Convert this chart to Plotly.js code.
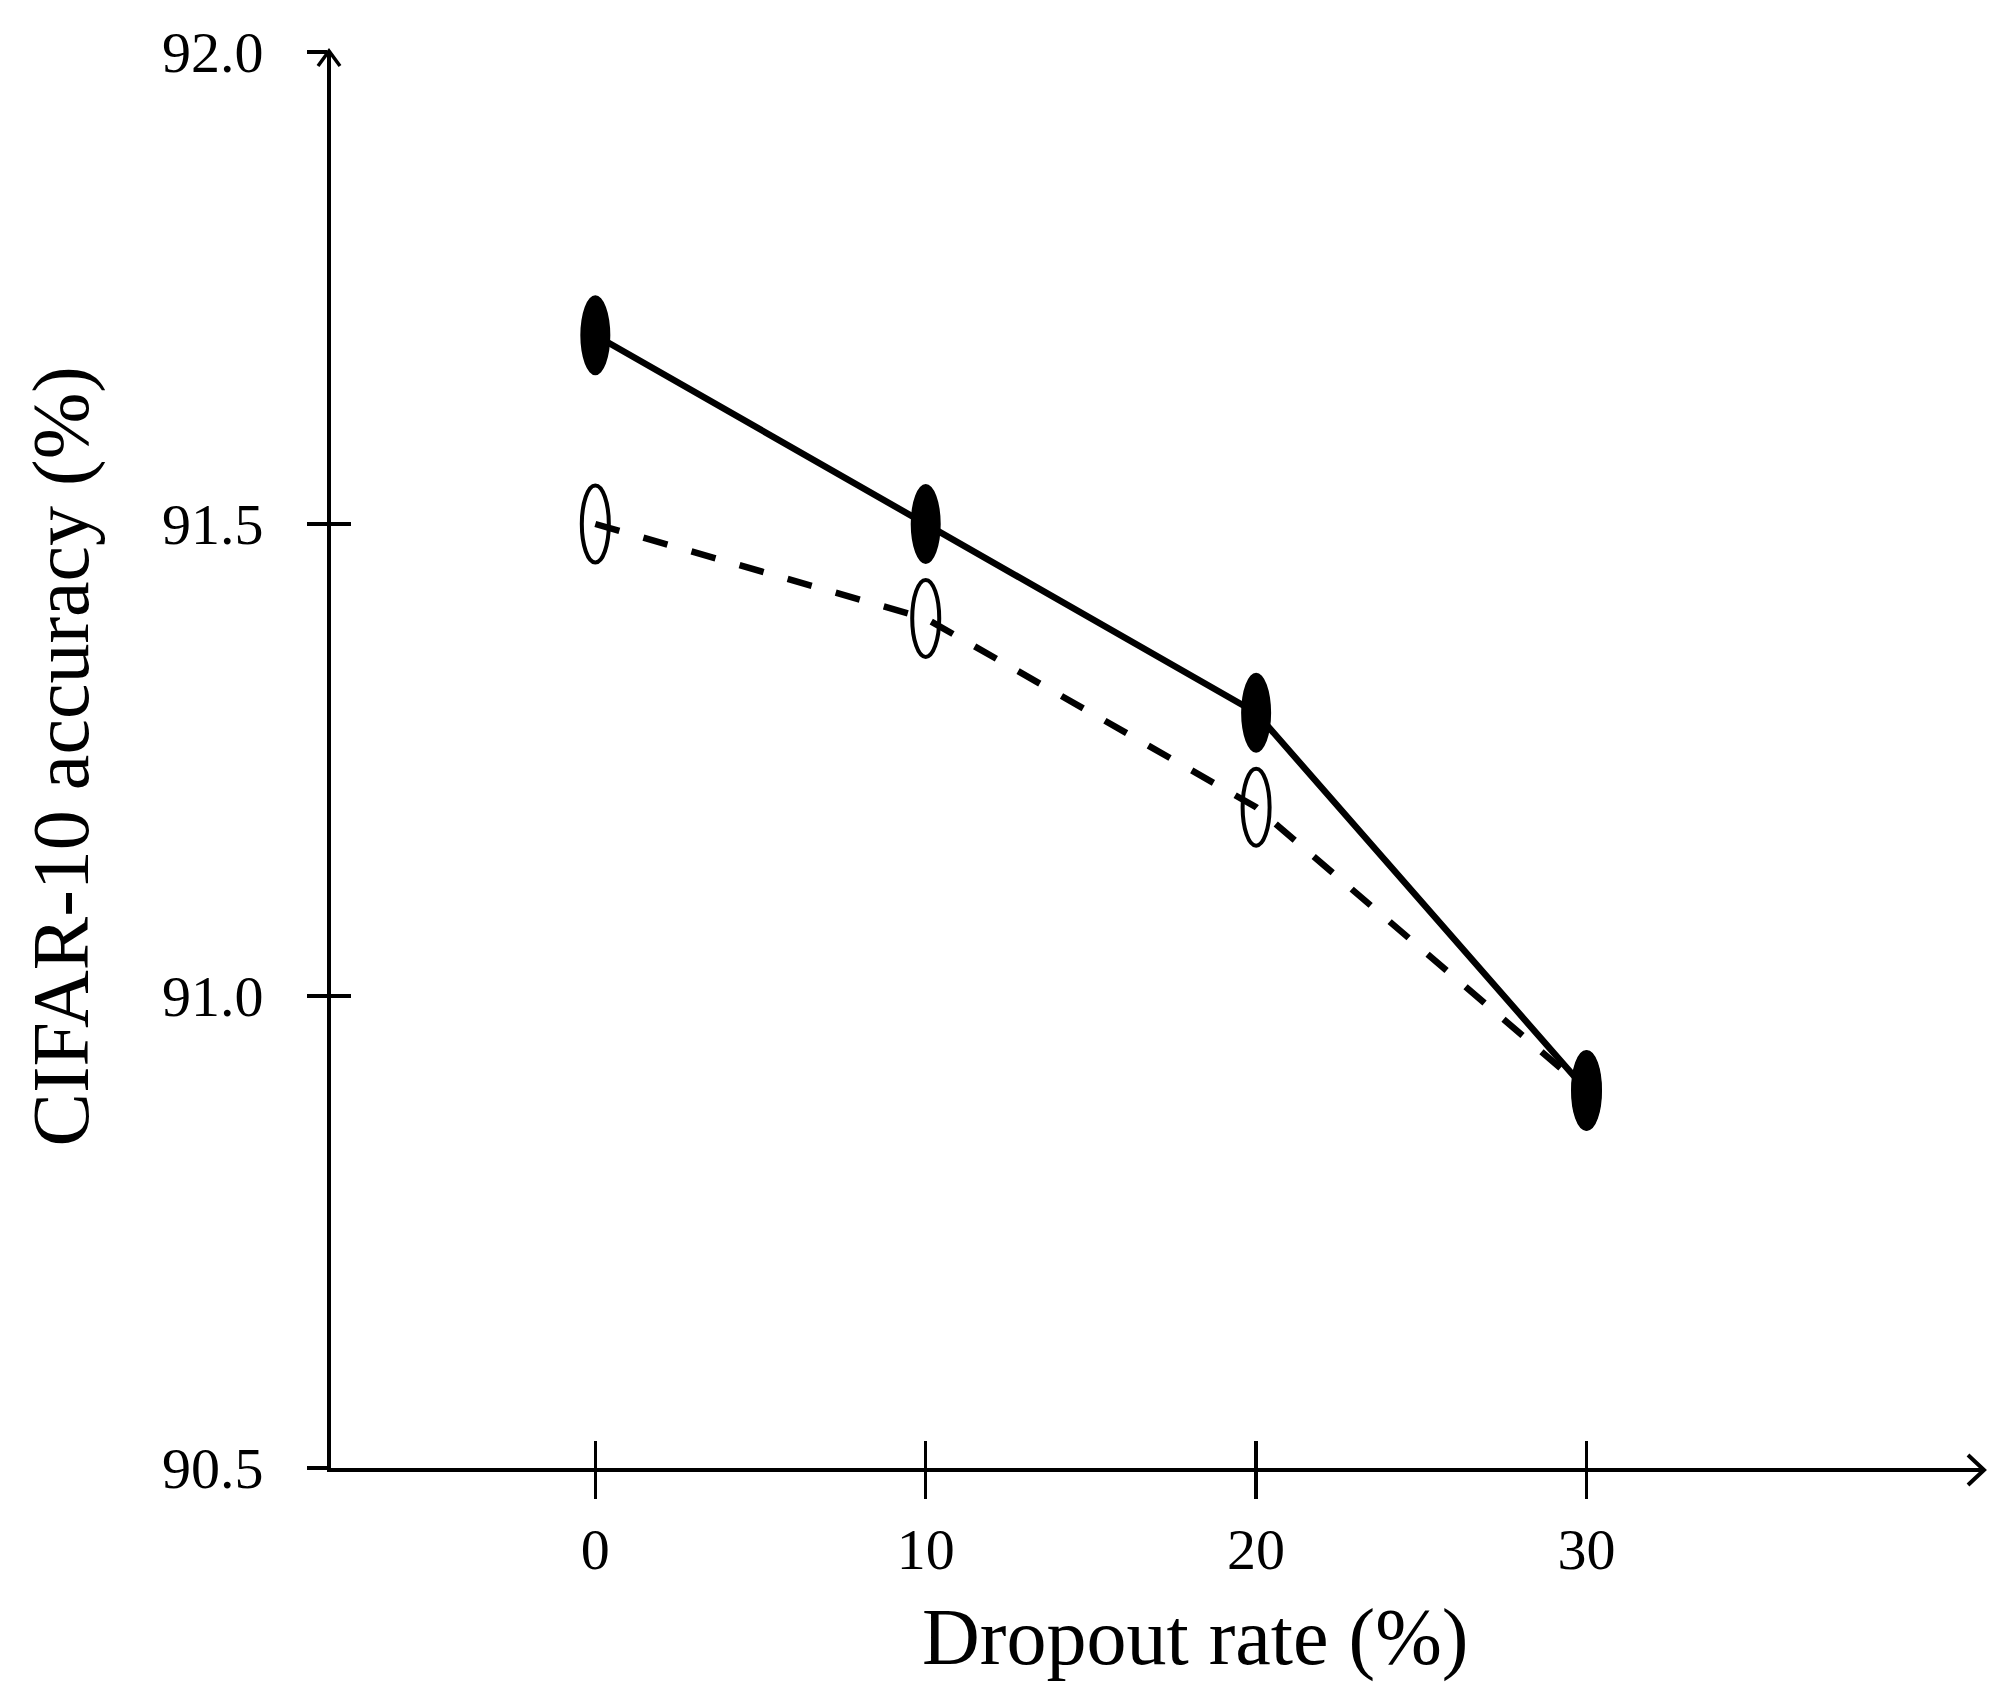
<!DOCTYPE html>
<html>
<head>
<meta charset="utf-8">
<script src="https://cdn.plot.ly/plotly-3.0.1.min.js"></script>
<style>
  html, body { margin: 0; padding: 0; background: #ffffff; }
  #chart { width: 1997px; height: 1701px; }
</style>
</head>
<body>
<div id="chart"></div>
<script>
// ---- data ----
const dropoutRates = [0, 10, 20, 30];
const accuracyFilled = [91.7, 91.5, 91.3, 90.9];
const accuracyHollow = [91.5, 91.4, 91.2, 90.9];
const xTickVals = [0, 10, 20, 30];
const xTickText = ['0', '10', '20', '30'];
const yTickVals = [90.5, 91.0, 91.5, 92.0];
const yTickText = ['90.5', '91.0', '91.5', '92.0'];
const xTitle = 'Dropout rate (%)';
const yTitle = 'CIFAR-10 accuracy (%)';

// ---- style ----
const FONT = '"Liberation Serif", "DejaVu Serif", serif';
const X_RANGE = [-8, 42];
const Y_RANGE = [90.5, 92.0];

const traceHollow = {
  x: dropoutRates, y: accuracyHollow,
  type: 'scatter', mode: 'lines',
  line: { color: '#000', width: 6.5, dash: '25px,25px' },
  xaxis: 'x', yaxis: 'y',
  hoverinfo: 'skip', showlegend: false
};
const traceFilled = {
  x: dropoutRates, y: accuracyFilled,
  type: 'scatter', mode: 'lines',
  line: { color: '#000', width: 6.5 },
  xaxis: 'x2', yaxis: 'y2',
  hoverinfo: 'skip', showlegend: false
};

// elliptical markers (pixel-sized, anchored at the data values)
const shapes = [];
dropoutRates.forEach((xv, i) => {
  shapes.push({
    type: 'circle', xref: 'x', yref: 'y',
    xsizemode: 'pixel', ysizemode: 'pixel',
    xanchor: xv, yanchor: accuracyHollow[i],
    x0: -13.5, x1: 13.5, y0: -38.5, y1: 38.5,
    line: { color: '#000', width: 4 },
    fillcolor: 'rgba(0,0,0,0)', layer: 'above'
  });
});
dropoutRates.forEach((xv, i) => {
  shapes.push({
    type: 'circle', xref: 'x', yref: 'y',
    xsizemode: 'pixel', ysizemode: 'pixel',
    xanchor: xv, yanchor: accuracyFilled[i],
    x0: -15, x1: 15, y0: -40, y1: 40,
    line: { color: '#000', width: 0 },
    fillcolor: '#000', layer: 'above'
  });
});
// axis arrowheads (paper-referenced so they are not clipped)
shapes.push({
  type: 'path', xref: 'paper', yref: 'paper',
  xsizemode: 'pixel', ysizemode: 'pixel',
  xanchor: 1, yanchor: 0,
  path: 'M -15 13 L 1 -2 L -15 -17',
  line: { color: '#000', width: 4 }, layer: 'above'
});
shapes.push({
  type: 'path', xref: 'paper', yref: 'paper',
  xsizemode: 'pixel', ysizemode: 'pixel',
  xanchor: 0, yanchor: 1,
  path: 'M -13 -14 L -2 1 L 9 -14',
  line: { color: '#000', width: 3.5 }, layer: 'above'
});

const commonX = {
  range: X_RANGE, tickvals: xTickVals, ticktext: xTickText,
  ticklen: 27, tickwidth: 3.5, tickcolor: '#000',
  showgrid: false, zeroline: false, fixedrange: true
};
const commonY = {
  range: Y_RANGE, tickvals: yTickVals, ticktext: yTickText,
  ticklen: 20, tickwidth: 3.5, tickcolor: '#000',
  showgrid: false, zeroline: false, fixedrange: true
};

const layout = {
  width: 1997, height: 1701,
  margin: { l: 331, r: 14, t: 52, b: 233, pad: 0 },
  paper_bgcolor: '#fff', plot_bgcolor: 'rgba(0,0,0,0)',
  font: { family: FONT, color: '#000' },
  showlegend: false,
  xaxis: Object.assign({}, commonX, {
    ticks: 'outside', showline: true, linecolor: '#000', linewidth: 4,
    tickfont: { family: FONT, size: 58, color: '#000' },
    ticklabelstandoff: 0,
    anchor: 'y', automargin: false
  }),
  yaxis: Object.assign({}, commonY, {
    ticks: 'outside', showline: true, linecolor: '#000', linewidth: 4,
    tickfont: { family: FONT, size: 58, color: '#000' },
    ticklabelstandoff: 32,
    anchor: 'x', automargin: false
  }),
  xaxis2: Object.assign({}, commonX, {
    ticks: 'inside', showline: false, showticklabels: false,
    overlaying: 'x', anchor: 'y2', matches: 'x'
  }),
  yaxis2: Object.assign({}, commonY, {
    ticks: 'inside', showline: false, showticklabels: false,
    overlaying: 'y', anchor: 'x2', matches: 'y'
  }),
  annotations: [
    {
      text: xTitle, xref: 'paper', yref: 'paper',
      x: 0.523, y: 0, xanchor: 'center', yanchor: 'middle',
      yshift: -169, showarrow: false,
      font: { family: FONT, size: 80, color: '#000' }
    },
    {
      text: yTitle, xref: 'paper', yref: 'paper',
      x: 0, y: 0.5025, xanchor: 'center', yanchor: 'middle',
      xshift: -270, textangle: -90, showarrow: false,
      font: { family: FONT, size: 80, color: '#000' }
    }
  ],
  shapes: shapes
};

Plotly.newPlot('chart', [traceHollow, traceFilled], layout, { staticPlot: true, displayModeBar: false });
</script>
</body>
</html>
